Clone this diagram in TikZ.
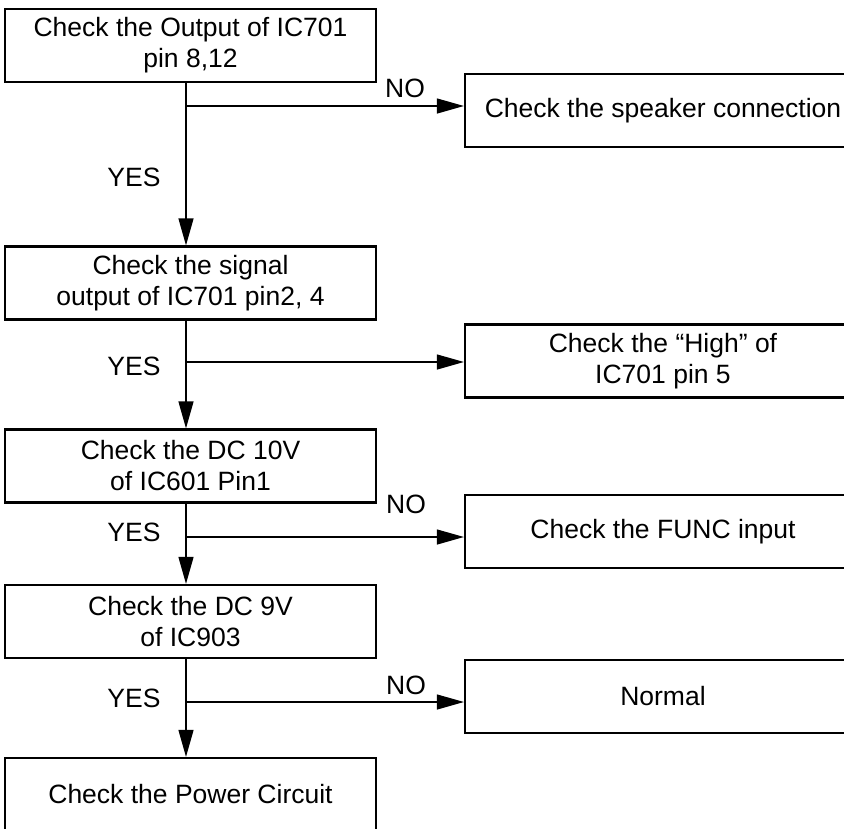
\documentclass[tikz,border=0pt]{standalone}
\usepackage{fontspec}
\setmainfont{Liberation Sans}
\usetikzlibrary{arrows.meta}
\begin{document}
\begin{tikzpicture}[x=1pt,y=-1pt,
  txt/.style={font=\fontsize{26.5}{31}\selectfont},
  box/.style={txt, draw, line width=2.2pt, align=center, inner sep=0pt},
  lbox/.style={box, minimum width=371pt, minimum height=73pt},
  rbox/.style={box, minimum width=396pt, minimum height=73pt},
  conn/.style={line width=1.2pt, -{Triangle[length=27pt,width=15pt]}},
  lab/.style={txt, inner sep=0pt}]
\useasboundingbox (0,0) rectangle (844,828);
\clip (0,0) rectangle (844,828);
% left column
\node[lbox] (b1) at (190.5,45.5) {Check the Output of IC701\\pin 8,12};
\node[lbox] (b2) at (190.5,283) {Check the signal\\output of IC701 pin2, 4};
\node[lbox] (b3) at (190.5,466) {Check the DC 10V\\of IC601 Pin1};
\node[lbox] (b4) at (190.5,621.5) {Check the DC 9V\\of IC903};
\node[lbox] (b5) at (190.5,794.5) {Check the Power Circuit};
% right column
\node[rbox] (r1) at (663,110.5) {Check the speaker connection};
\node[rbox] (r2) at (663,361) {Check the “High” of\\IC701 pin 5};
\node[rbox] (r3) at (663,531.5) {Check the FUNC input};
\node[rbox] (r4) at (663,696.5) {Normal};
% junctions
\coordinate (j1) at (186,106);
\coordinate (j2) at (186,362);
\coordinate (j3) at (186,537);
\coordinate (j4) at (186,702);
% spine
\draw[conn] (b1.south -| j1) -- (b2.north -| j1);
\draw[conn] (b2.south -| j2) -- (b3.north -| j2);
\draw[conn] (b3.south -| j3) -- (b4.north -| j3);
\draw[conn] (b4.south -| j4) -- (b5.north -| j4);
% branches
\draw[conn] (j1) -- (j1 -| r1.west);
\draw[conn] (j2) -- (j2 -| r2.west);
\draw[conn] (j3) -- (j3 -| r3.west);
\draw[conn] (j4) -- (j4 -| r4.west);
% labels
\node[lab] (no1) at (405,88) {NO};
\node[lab] (yes1) at (134,177) {YES};
\node[lab] (yes2) at (134,366) {YES};
\node[lab] (no3) at (406,504) {NO};
\node[lab] (yes3) at (134,532) {YES};
\node[lab] (no4) at (406,685) {NO};
\node[lab] (yes4) at (134,698) {YES};
\end{tikzpicture}
\end{document}
